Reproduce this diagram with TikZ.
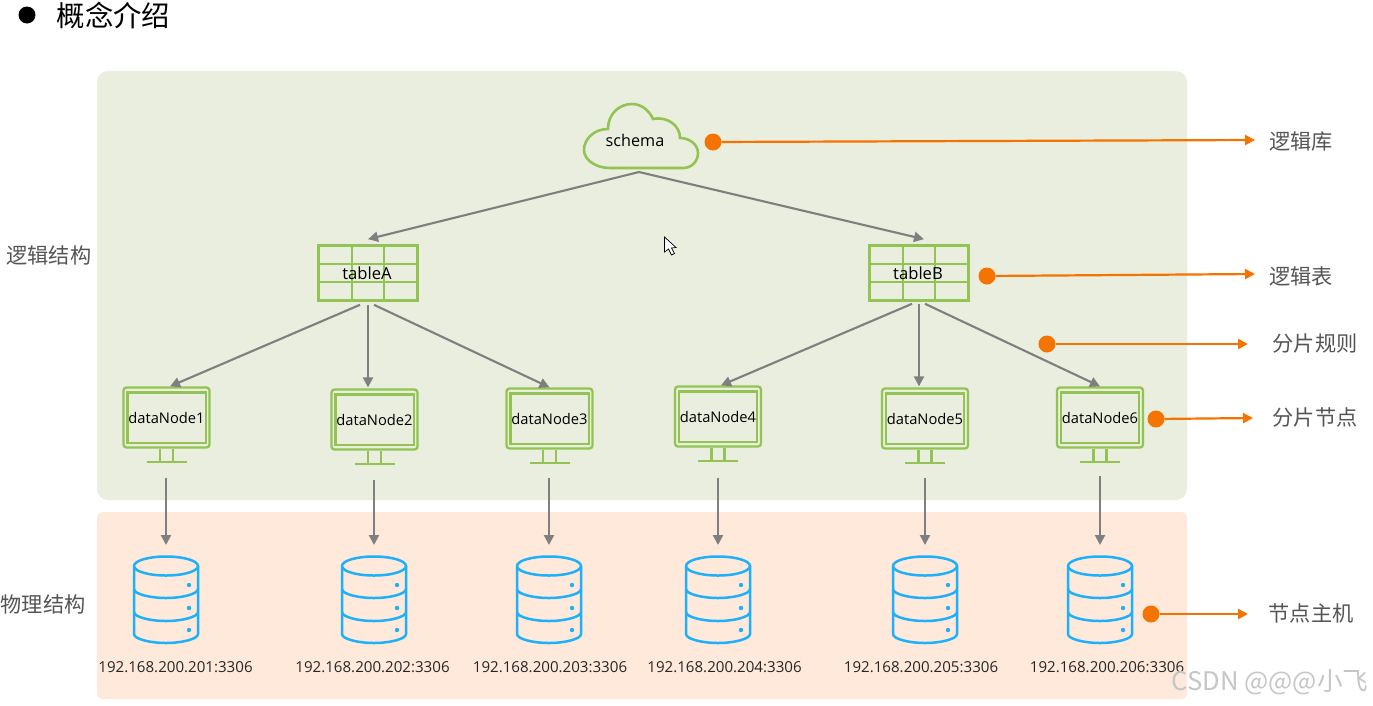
\documentclass[tikz,border=0pt]{standalone}
\usepackage{fontspec}
\setmainfont{Open Sans}
\newfontfamily\cjk{Noto Sans CJK SC}
\usetikzlibrary{arrows.meta}
\definecolor{leaf}{HTML}{92C353}
\definecolor{sky}{HTML}{1FB0FA}
\definecolor{flame}{HTML}{F57300}
\definecolor{ash}{HTML}{7F7F7F}
\definecolor{inkgray}{HTML}{555555}
\definecolor{greenzone}{HTML}{EAEEDF}
\definecolor{pinkzone}{HTML}{FEE9DB}
\tikzset{
  x=1pt,y=-1pt,
  flow/.style={draw=ash,line width=2.1pt,-{Triangle[length=10pt,width=10pt]}},
  tagline/.style={draw=flame,line width=2.2pt,-{Triangle[length=10pt,width=10pt]}},
  tagdot/.style={circle,fill=flame,minimum size=17pt,inner sep=0pt},
  monitor/.style={draw=leaf,line width=2.3pt,rounded corners=3pt,minimum width=86pt,minimum height=60pt,inner sep=0pt,font=\fontsize{14.7}{17}\selectfont},
  gridbox/.style={draw=leaf,line width=2.6pt,minimum width=99pt,minimum height=55pt,inner sep=0pt},
  gridtext/.style={font=\fontsize{16.6}{20}\selectfont,inner sep=0pt},
  leafline/.style={draw=leaf,line width=2.3pt},
  skyline/.style={draw=sky,line width=2.5pt},
  iplabel/.style={font=\fontsize{15.1}{18}\selectfont,text=black!85},
  sidetag/.style={font=\cjk\fontsize{21.2}{25}\selectfont,text=inkgray},
}
\begin{document}
\begin{tikzpicture}
\useasboundingbox (0,0) rectangle (1373,705);
\fill[white] (0,0) rectangle (1373,705);
\fill[greenzone,rounded corners=11pt] (97,71) rectangle (1187,500);
\fill[pinkzone,rounded corners=6pt] (97,512) rectangle (1187,699);
% title
\node[circle,fill=black,minimum size=17pt,inner sep=0pt] (bullet) at (27,15) {};
\node[font=\cjk\fontsize{28.4}{33}\selectfont,text=black] (title) at (113.5,15.5) {概念介绍};
\node[sidetag] (logic) at (49,255.5) {逻辑结构};
\node[sidetag] (phys) at (43,604.5) {物理结构};
% cloud
\draw[leafline,line width=2.6pt] (610,168) -- (683,168)
  .. controls (692,168) and (698,161) .. (698,153)
  .. controls (698,145) and (690,138) .. (680,138)
  .. controls (680,126) and (668,116) .. (653,119)
  .. controls (649,110) and (641,104) .. (632,104)
  .. controls (619,104) and (608,114) .. (608,129)
  .. controls (594,129) and (584,139) .. (584,150)
  .. controls (584,160) and (596,168) .. (610,168) -- cycle;
\node[gridtext,font=\fontsize{16.2}{20}\selectfont] (schema) at (635,140) {schema};
\coordinate (apex) at (639,172);
% cursor
\draw[black,fill=white,line width=0.7pt] (664.5,237) -- (664.5,252) -- (668.5,249) -- (671.5,255) -- (674.5,253.5) -- (671.5,248) -- (676,247.5) -- cycle;
% tables
\node[gridbox] (tableA) at (368,273) {};
\node[gridbox] (tableB) at (919,273) {};
\foreach \x in {318,869}{
  \draw[leafline,line width=2.5pt] (\x+34,245) -- (\x+34,301) (\x+66,245) -- (\x+66,301)
    (\x,264) -- (\x+100,264) (\x,282) -- (\x+100,282);
}
\node[gridtext] (labelA) at (367,273) {tableA};
\node[gridtext] (labelB) at (918,273) {tableB};
% monitors, databases, addresses
\foreach \i/\mx/\my/\dx/\ipx/\top in {
  1/166.5/417.5/166/175.5/478,
  2/374.5/419.5/374/372.5/480,
  3/549.5/418.5/549/550/478,
  4/718/416.5/718/724.5/478,
  5/925/418.5/925/921/478,
  6/1100/417.5/1100/1107/476}{
  \node[monitor] (m\i) at (\mx,\my) {dataNode\i};
  \draw[leafline] ([shift={(5pt,-6pt)}]m\i.north west) rectangle ([shift={(-5pt,6pt)}]m\i.south east);
  \draw[leafline] ([xshift=-6.5pt]m\i.south) -- ++(0pt,-13pt) ([xshift=6.5pt]m\i.south) -- ++(0pt,-13pt)
     ([xshift=-20pt,yshift=-13pt]m\i.south) -- ++(40pt,0pt);
  \draw[skyline] (\dx-32,566) arc[start angle=180,end angle=-180,x radius=32pt,y radius=9.5pt];
  \draw[skyline] (\dx-32,566) -- (\dx-32,634) .. controls (\dx-32,639) and (\dx-16,643) .. (\dx,643)
     .. controls (\dx+16,643) and (\dx+32,639) .. (\dx+32,634) -- (\dx+32,566);
  \draw[skyline] (\dx-32,589) .. controls (\dx-32,594) and (\dx-16,598) .. (\dx,598)
     .. controls (\dx+16,598) and (\dx+32,594) .. (\dx+32,589);
  \draw[skyline] (\dx-32,612) .. controls (\dx-32,617) and (\dx-16,621) .. (\dx,621)
     .. controls (\dx+16,621) and (\dx+32,617) .. (\dx+32,612);
  \fill[sky] (\dx+23,585) circle[radius=2.2pt] (\dx+23,608) circle[radius=2.2pt] (\dx+23,630) circle[radius=2.2pt];
  \coordinate (db\i) at (\dx,545);
  \coordinate (s\i) at (\dx,\top);
  \draw[flow] (s\i) -- (db\i);
  \node[iplabel] (ip\i) at (\ipx,667) {192.168.200.20\i:3306};
}
% connectors
\draw[flow] (apex) -- ([yshift=5pt]tableA.north);
\draw[flow] (apex) -- ([xshift=5pt,yshift=5pt]tableB.north);
\draw[flow] ([xshift=-8pt,yshift=-3pt]tableA.south) -- ([xshift=3.5pt]m1.north);
\draw[flow] ([yshift=-3pt]tableA.south) -- ([xshift=-6.5pt,yshift=1pt]m2.north);
\draw[flow] ([xshift=6pt,yshift=-3pt]tableA.south) -- (m3.north);
\draw[flow] ([xshift=-7pt,yshift=-2pt]tableB.south) -- ([xshift=3pt]m4.north);
\draw[flow] ([yshift=-2pt]tableB.south) -- ([xshift=-6pt,yshift=1pt]m5.north);
\draw[flow] ([xshift=6pt,yshift=-2pt]tableB.south) -- (m6.north);
% tags
\node[tagdot] (d1) at (713,142) {};
\node[tagdot] (d2) at (987,276) {};
\node[tagdot] (d3) at (1047,344) {};
\node[tagdot] (d4) at (1156,419) {};
\node[tagdot] (d5) at (1151,614) {};
\coordinate (e1) at (1255,140);
\coordinate (e2) at (1255,274);
\coordinate (e3) at (1248,344);
\coordinate (e4) at (1253,418);
\coordinate (e5) at (1248,614);
\foreach \k in {1,...,5}{\draw[tagline] (d\k) -- (e\k);}
\node[sidetag] (t1) at (1301,141.5) {逻辑库};
\node[sidetag] (t2) at (1301,276.5) {逻辑表};
\node[sidetag] (t3) at (1315,343.5) {分片规则};
\node[sidetag] (t4) at (1315,417.5) {分片节点};
\node[sidetag] (t5) at (1311,613.5) {节点主机};
% watermark
\node[font=\cjk\fontsize{25.6}{30}\selectfont,text=gray!45,inner sep=0pt] (mark) at (1270,682) {CSDN @@@小飞};
\end{tikzpicture}
\end{document}
